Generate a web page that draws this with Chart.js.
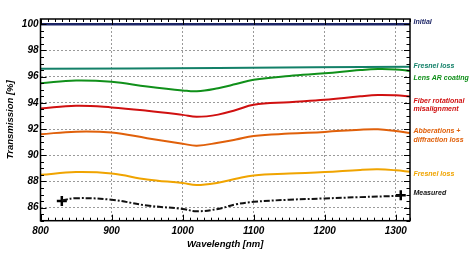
<!DOCTYPE html>
<html>
<head>
<meta charset="utf-8">
<script src="https://cdn.jsdelivr.net/npm/chart.js@4.4.0/dist/chart.umd.min.js"></script>
<style>
  html, body { margin: 0; padding: 0; background: #fff; }
  canvas { display: block; }
</style>
</head>
<body>
<canvas id="chart-canvas" width="471" height="259"></canvas>
<script>
// tick labels
const xTicks = [800, 900, 1000, 1100, 1200, 1300];
const yTicks = [86, 88, 90, 92, 94, 96, 98, 100];

// flat reference lines
const flatWl = [800, 1320];
const initialT = [100, 100];
const fresnelTopWl = [800, 1050, 1320];
const fresnelTopT = [96.6, 96.66, 96.76];

// shared wavelength grid for the modelled curves
const wl = [800, 850, 900, 950, 1000, 1020, 1050, 1075, 1100, 1150, 1200, 1250, 1275, 1300, 1320];
const lensArT = [95.5, 95.7, 95.6, 95.25, 94.95, 94.88, 95.12, 95.43, 95.76, 96.05, 96.25, 96.5, 96.58, 96.55, 96.43];
const fiberRotT = [93.56, 93.77, 93.65, 93.4, 93.08, 92.93, 93.1, 93.45, 93.85, 94.05, 94.23, 94.5, 94.6, 94.57, 94.48];
const abberT = [91.6, 91.8, 91.73, 91.3, 90.88, 90.73, 90.95, 91.2, 91.47, 91.65, 91.78, 91.95, 91.98, 91.85, 91.7];
const fresnelLowT = [88.5, 88.71, 88.6, 88.15, 87.87, 87.72, 87.9, 88.2, 88.46, 88.6, 88.71, 88.88, 88.92, 88.85, 88.74];

// measured
const measWl = [830, 850, 900, 950, 1000, 1020, 1050, 1075, 1100, 1150, 1200, 1250, 1307];
const measT = [86.55, 86.72, 86.6, 86.16, 85.9, 85.72, 85.9, 86.25, 86.44, 86.6, 86.7, 86.8, 86.9];
const markerWl = [830, 1307];
const markerT = [86.5, 86.95];

// right hand labels (text, colour, transmission value they sit at)
const labelText = ['Initial', 'Fresnel loss', 'Lens AR coating', 'Fiber rotational', 'misalignment',
  'Abberations +', 'diffraction loss', 'Fresnel loss', 'Measured'];
const labelColor = ['#1c2566', '#138068', '#10901a', '#d01010', '#d01010',
  '#e0600a', '#e0600a', '#f0a400', '#111111'];
const labelAt = [100.15, 96.84, 95.86, 94.15, 93.49, 91.83, 91.16, 88.58, 87.13];

const pts = (xs, ys) => xs.map((x, i) => ({ x: x, y: ys[i] }));

const curve = (data, color, width) => ({
  data: data,
  borderColor: color,
  borderWidth: width,
  pointRadius: 0,
  fill: false,
  tension: 0.4
});

const frameTicks = {
  id: 'frameTicks',
  afterDraw(chart) {
    const ctx = chart.ctx;
    const a = chart.chartArea;
    const xs = chart.scales.x;
    const ys = chart.scales.y;
    ctx.save();
    ctx.strokeStyle = '#000';
    ctx.lineWidth = 1;
    for (let v = 800; v <= 1320; v += 10) {
      const px = Math.round(xs.getPixelForValue(v)) + 0.5;
      const len = v % 100 === 0 ? 6 : 3;
      ctx.beginPath();
      ctx.moveTo(px, a.bottom); ctx.lineTo(px, a.bottom - len);
      ctx.moveTo(px, a.top); ctx.lineTo(px, a.top + len);
      ctx.stroke();
    }
    for (let v = 85; v <= 100.4; v += 0.5) {
      const py = Math.round(ys.getPixelForValue(v)) + 0.5;
      const len = v % 2 === 0 ? 6 : 3.5;
      ctx.beginPath();
      ctx.moveTo(a.left, py); ctx.lineTo(a.left + len, py);
      ctx.moveTo(a.right, py); ctx.lineTo(a.right - len, py);
      ctx.stroke();
    }
    ctx.lineWidth = 1.5;
    ctx.strokeRect(a.left, a.top, a.right - a.left, a.bottom - a.top);

    ctx.font = 'bold italic 7px "Liberation Sans", Arial, sans-serif';
    ctx.textAlign = 'left';
    ctx.textBaseline = 'middle';
    labelText.forEach((t, i) => {
      ctx.fillStyle = labelColor[i];
      ctx.fillText(t, a.right + 3.5, ys.getPixelForValue(labelAt[i]));
    });
    ctx.restore();
  }
};

const tickFont = { family: '"Liberation Sans", Arial, sans-serif', size: 10, style: 'italic', weight: 'bold' };
const titleFont = { family: '"Liberation Sans", Arial, sans-serif', size: 9.5, style: 'italic', weight: 'bold' };

const chart = new Chart(document.getElementById('chart-canvas'), {
  type: 'line',
  data: {
    datasets: [
      curve(pts(flatWl, initialT), '#1c2566', 2.5),
      curve(pts(fresnelTopWl, fresnelTopT), '#138068', 2),
      curve(pts(wl, lensArT), '#10901a', 2),
      curve(pts(wl, fiberRotT), '#d01010', 2),
      curve(pts(wl, abberT), '#e0600a', 2),
      curve(pts(wl, fresnelLowT), '#f0a400', 2),
      Object.assign(curve(pts(measWl, measT), '#111111', 2), { borderDash: [6, 2, 2, 2] }),
      {
        data: pts(markerWl, markerT),
        showLine: false,
        pointStyle: 'cross',
        pointRadius: 5,
        pointBorderWidth: 2.5,
        pointBorderColor: '#000',
        pointBackgroundColor: '#000'
      }
    ]
  },
  options: {
    responsive: false,
    animation: false,
    devicePixelRatio: 1,
    layout: { padding: { top: 19, right: 61, left: 0, bottom: 0 } },
    plugins: { legend: { display: false }, tooltip: { enabled: false } },
    scales: {
      x: {
        type: 'linear',
        min: 800,
        max: 1320,
        afterBuildTicks: (s) => { s.ticks = xTicks.map(v => ({ value: v })); },
        afterFit: (s) => { s.height = 38.3; },
        ticks: { font: tickFont, color: '#000', padding: 5, maxRotation: 0, callback: (v) => String(v) },
        grid: { color: '#9a9a9a', lineWidth: 1, drawTicks: false },
        border: { display: false, dash: [2, 2] },
        title: { display: true, text: 'Wavelength [nm]', font: titleFont, color: '#000', padding: { top: 0, bottom: 9 } }
      },
      y: {
        min: 85,
        max: 100.4,
        afterBuildTicks: (s) => { s.ticks = yTicks.map(v => ({ value: v })); },
        afterFit: (s) => { s.width = 40.5; },
        ticks: { font: tickFont, color: '#000', padding: 2, callback: (v) => String(v) },
        grid: { color: '#9a9a9a', lineWidth: 1, drawTicks: false },
        border: { display: false, dash: [2, 2] },
        title: { display: true, text: 'Transmission [%]', font: titleFont, color: '#000', padding: { top: 5, bottom: 0 } }
      }
    }
  },
  plugins: [frameTicks]
});
</script>
</body>
</html>
